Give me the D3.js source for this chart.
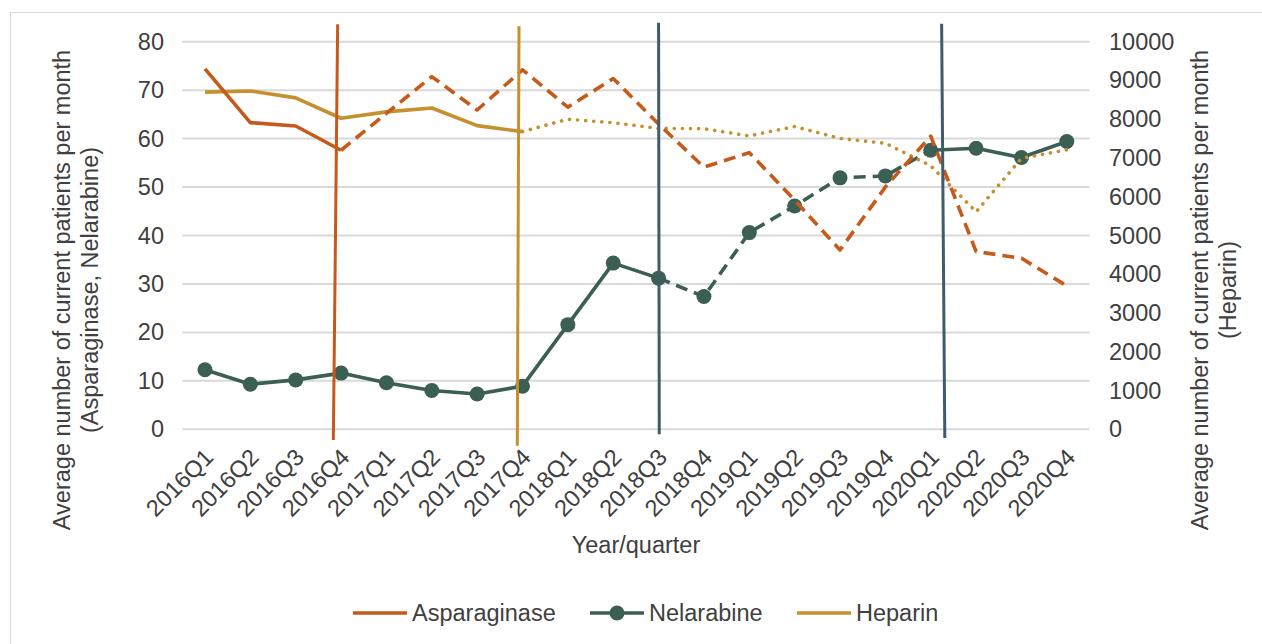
<!DOCTYPE html>
<html>
<head>
<meta charset="utf-8">
<script src="https://cdn.jsdelivr.net/npm/d3@7"></script>
<style>
  body { margin: 0; background: #fff; }
  text { font-family: "Liberation Sans", Arial, sans-serif; fill: #404040; }
</style>
</head>
<body>
<div id="chart"></div>
<script>
const quarters = ['2016Q1', '2016Q2', '2016Q3', '2016Q4', '2017Q1', '2017Q2', '2017Q3', '2017Q4',
  '2018Q1', '2018Q2', '2018Q3', '2018Q4', '2019Q1', '2019Q2', '2019Q3', '2019Q4',
  '2020Q1', '2020Q2', '2020Q3', '2020Q4']

// left axis (patients per month)
const asparaginase = [74.4, 63.3, 62.6, 57.6, 65.2, 72.8, 65.9, 74.2, 66.5, 72.4,
  63.0, 54.1, 57.1, 47.3, 37.0, 50.0, 60.5, 36.7, 35.3, 29.6]
const nelarabine = [12.3, 9.3, 10.2, 11.6, 9.6, 8.0, 7.3, 8.9, 21.6, 34.3,
  31.2, 27.4, 40.6, 46.1, 51.9, 52.3, 57.6, 58.0, 56.1, 59.4]
// right axis
const heparin = [8700, 8730, 8550, 8025, 8190, 8290, 7835, 7680, 8000, 7910,
  7765, 7755, 7570, 7810, 7505, 7380, 6800, 5610, 6990, 7210]

const leftTicks = [0, 10, 20, 30, 40, 50, 60, 70, 80]
const rightTicks = [0, 1000, 2000, 3000, 4000, 5000, 6000, 7000, 8000, 9000, 10000]

// which stretches are solid / dashed / dotted (index ranges, inclusive)
const asparaginaseStyle = [[0, 3, 'solid'], [3, 19, 'dash']]
const nelarabineStyle = [[0, 10, 'solid'], [10, 16, 'dash'], [16, 19, 'solid']]
const heparinStyle = [[0, 7, 'solid'], [7, 19, 'dot']]

// vertical event lines (quarter they sit on)
const eventQuarters = ['2016Q4', '2017Q4', '2018Q3', '2020Q1']

const COLORS = {
  asparaginase: '#c55a1a',
  nelarabine: '#3b5f52',
  heparin: '#c6902f',
  event: '#3f5c6d'
}

const width = 1262
const height = 644
const fontSize = 23.5

const svg = d3.select('#chart').append('svg')
  .attr('width', width)
  .attr('height', height)

// outer chart border
svg.append('rect')
  .attr('x', 10.5).attr('y', 12.5)
  .attr('width', 1400).attr('height', 800)
  .attr('fill', 'none')
  .attr('stroke', '#d9d9d9')

const xScale = d3.scaleBand()
  .domain(quarters)
  .range([182.3, 1089.5])
  .padding(0)
const xc = q => xScale(q) + xScale.bandwidth() / 2

const yLeft = d3.scaleLinear().domain([0, 80]).range([429.3, 41.7])
const yRight = d3.scaleLinear().domain([0, 10000]).range([429.3, 41.7])

// gridlines
svg.append('g')
  .selectAll('line')
  .data(leftTicks)
  .enter().append('line')
  .attr('x1', 182.3)
  .attr('x2', 1089.5)
  .attr('y1', d => yLeft(d))
  .attr('y2', d => yLeft(d))
  .attr('stroke', '#d9d9d9')
  .attr('stroke-width', 2)

// left axis
const leftAxis = svg.append('g')
  .attr('transform', 'translate(164,0)')
  .call(d3.axisLeft(yLeft).tickValues(leftTicks).tickSize(0).tickPadding(0))
leftAxis.select('.domain').remove()
leftAxis.selectAll('text').attr('font-size', fontSize).attr('fill', '#404040')

// right axis
const rightAxis = svg.append('g')
  .attr('transform', 'translate(1109,0)')
  .call(d3.axisRight(yRight).tickValues(rightTicks).tickFormat(d3.format('d')).tickSize(0).tickPadding(0))
rightAxis.select('.domain').remove()
rightAxis.selectAll('text').attr('font-size', fontSize).attr('fill', '#404040')

// x labels, rotated
svg.append('g')
  .selectAll('text')
  .data(quarters)
  .enter().append('text')
  .attr('transform', d => `translate(${xc(d) + 4}, 453) rotate(-45)`)
  .attr('text-anchor', 'end')
  .attr('dy', '0.35em')
  .attr('font-size', fontSize)
  .text(d => d)

svg.append('text')
  .attr('x', 636).attr('y', 553)
  .attr('text-anchor', 'middle')
  .attr('font-size', fontSize)
  .text('Year/quarter')

// axis titles
const leftTitle = svg.append('text')
  .attr('transform', 'translate(70, 290) rotate(-90)')
  .attr('text-anchor', 'middle')
  .attr('font-size', fontSize)
leftTitle.append('tspan').attr('x', 0).attr('dy', 0).text('Average number of current patients per month')
leftTitle.append('tspan').attr('x', 0).attr('dy', 28).text('(Asparaginase, Nelarabine)')

const rightTitle = svg.append('text')
  .attr('transform', 'translate(1208, 290) rotate(-90)')
  .attr('text-anchor', 'middle')
  .attr('font-size', fontSize)
rightTitle.append('tspan').attr('x', 0).attr('dy', 0).text('Average number of current patients per month')
rightTitle.append('tspan').attr('x', 0).attr('dy', 28).text('(Heparin)')

// series
const dashes = { solid: null, dash: '12 7', dot: '0.1 8' }

function drawSeries(values, yScale, style, color) {
  const line = d3.line()
    .x(d => xc(d.q))
    .y(d => yScale(d.v))
  const pts = values.map((v, i) => ({ q: quarters[i], v }))
  style.forEach(([a, b, kind]) => {
    svg.append('path')
      .datum(pts.slice(a, b + 1))
      .attr('d', line)
      .attr('fill', 'none')
      .attr('stroke', color)
      .attr('stroke-width', 3.6)
      .attr('stroke-linejoin', 'round')
      .attr('stroke-linecap', kind === 'dot' ? 'round' : 'butt')
      .attr('stroke-dasharray', dashes[kind])
  })
  return pts
}

const nelPts = drawSeries(nelarabine, yLeft, nelarabineStyle, COLORS.nelarabine)
svg.append('g')
  .selectAll('circle')
  .data(nelPts)
  .enter().append('circle')
  .attr('cx', d => xc(d.q))
  .attr('cy', d => yLeft(d.v))
  .attr('r', 7.5)
  .attr('fill', COLORS.nelarabine)

drawSeries(heparin, yRight, heparinStyle, COLORS.heparin)
drawSeries(asparaginase, yLeft, asparaginaseStyle, COLORS.asparaginase)

// event lines (hand drawn in the original, slightly slanted)
const eventColors = [COLORS.asparaginase, COLORS.heparin, COLORS.event, COLORS.event]
const eventShift = [[-0.075, -0.17], [-0.077, -0.115], [0, 0.015], [0.24, 0.31]]
const eventEnds = [[83.6, -2.2], [83.2, -3.4], [83.9, -1.0], [83.7, -1.8]]
svg.append('g')
  .selectAll('line')
  .data(eventQuarters)
  .enter().append('line')
  .attr('x1', (d, i) => xc(d) + eventShift[i][0] * xScale.bandwidth())
  .attr('x2', (d, i) => xc(d) + eventShift[i][1] * xScale.bandwidth())
  .attr('y1', (d, i) => yLeft(eventEnds[i][0]))
  .attr('y2', (d, i) => yLeft(eventEnds[i][1]))
  .attr('stroke', (d, i) => eventColors[i])
  .attr('stroke-width', 3)

// legend
const legendItems = [
  { name: 'Asparaginase', color: COLORS.asparaginase, marker: false, x: 353 },
  { name: 'Nelarabine', color: COLORS.nelarabine, marker: true, x: 590 },
  { name: 'Heparin', color: COLORS.heparin, marker: false, x: 797 }
]
const legend = svg.append('g')
  .selectAll('g')
  .data(legendItems)
  .enter().append('g')
  .attr('transform', d => `translate(${d.x}, 613)`)
legend.append('line')
  .attr('x1', 0).attr('x2', 54)
  .attr('stroke', d => d.color)
  .attr('stroke-width', 3.6)
legend.filter(d => d.marker).append('circle')
  .attr('cx', 27).attr('r', 7.5)
  .attr('fill', d => d.color)
legend.append('text')
  .attr('x', 59)
  .attr('dy', '0.35em')
  .attr('font-size', fontSize)
  .text(d => d.name)
</script>
</body>
</html>
